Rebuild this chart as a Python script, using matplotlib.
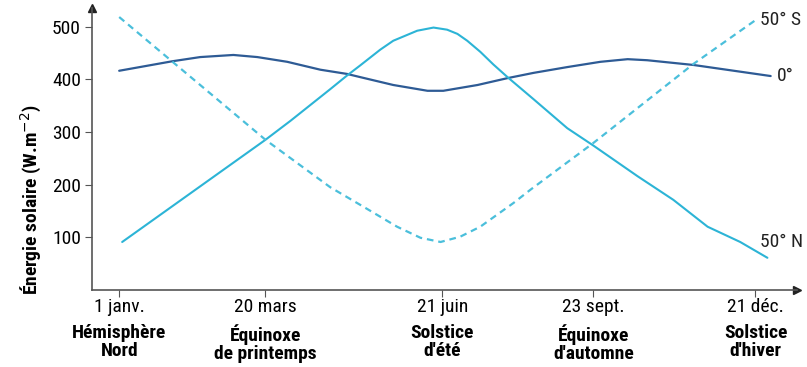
import matplotlib
matplotlib.use("Agg")
import matplotlib.pyplot as plt
import numpy as np

plt.rcParams['font.family'] = ['Liberation Sans Narrow', 'Roboto Condensed',
                               'DejaVu Sans Condensed', 'Roboto', 'DejaVu Sans']

# x in months from 1 janv. (as read from the schematic)
tick_pos = [0, 2.69, 5.94, 8.72, 11.70]
tick_dates = ["1 janv.", "20 mars", "21 juin", "23 sept.", "21 déc."]
tick_events = ["Hémisphère\nNord", "Équinoxe\nde printemps", "Solstice\nd'été",
               "Équinoxe\nd'automne", "Solstice\nd'hiver"]

# 0° (équateur)
x_eq = [0.00, 0.975, 1.49, 2.10, 2.54, 3.09, 3.70, 4.19, 4.43, 5.04, 5.67, 5.96,
        6.59, 7.14, 7.62, 8.24, 8.85, 9.35, 9.71, 10.56, 11.98]
y_eq = [416, 434, 442, 446, 442, 433, 418, 410, 404, 389, 378, 378,
        389, 402, 412, 423, 433, 438, 436, 427, 406]

# 50° N
x_n = [0.055, 2.69, 3.15, 3.88, 4.19, 4.43, 4.80, 5.04, 5.48, 5.78, 6.03, 6.22, 6.40,
       6.64, 6.88, 7.14, 7.62, 8.24, 8.72, 9.53, 10.19, 10.82, 11.42, 11.92]
y_n = [91, 285, 321, 381, 407, 426, 456, 473, 492, 498, 494, 486, 473,
       452, 428, 404, 362, 307, 274, 216, 171, 120, 91, 61]

# 50° S
x_s = [0.00, 2.69, 3.88, 4.49, 5.11, 5.54, 5.91, 6.27, 6.64, 7.25, 7.56, 8.72, 10.56, 11.70]
y_s = [518, 285, 195, 158, 120, 99, 91, 101, 120, 165, 190, 279, 429, 512]

yticks = [100, 200, 300, 400, 500]

fig = plt.figure(figsize=(8.07, 3.67), dpi=100)
ax = fig.add_axes([0.114, 0.21, 0.874, 0.768])

dark = "#2e5b95"
light = "#2cb4d6"
dash = "#4bbfdb"

ax.plot(x_eq, y_eq, color=dark, lw=1.6, solid_capstyle='round')
ax.plot(x_n, y_n, color=light, lw=1.5, solid_capstyle='round')
ax.plot(x_s, y_s, color=dash, lw=1.6, linestyle=(0, (3, 2.2)))

fs = 14
ax.text(11.79, 512, "50° S", fontsize=fs, va='center', ha='left', color="#222")
ax.text(12.10, 406, "0°", fontsize=fs, va='center', ha='left', color="#222")
ax.text(11.79, 91, "50° N", fontsize=fs, va='center', ha='left', color="#222")

ax.set_xlim(-0.5, 12.47)
ax.set_ylim(0, 535)

for s in ['top', 'right']:
    ax.spines[s].set_visible(False)
for s in ['left', 'bottom']:
    ax.spines[s].set_color("#555555")
    ax.spines[s].set_linewidth(1.2)

# arrow heads at axis ends
ax.plot(1, 0, ">", color="#222", ms=6, transform=ax.transAxes, clip_on=False)
ax.plot(0, 1, "^", color="#222", ms=6, transform=ax.transAxes, clip_on=False)

ax.set_yticks(yticks)
ax.set_yticklabels([str(v) for v in yticks], fontsize=fs)
ax.tick_params(axis='y', length=5, color="#555555", pad=3)

ax.set_xticks(tick_pos)
ax.set_xticklabels(tick_dates, fontsize=fs)
ax.tick_params(axis='x', length=5, color="#555555", pad=1)

for xp, ev in zip(tick_pos, tick_events):
    ax.text(xp, -0.12, ev, transform=ax.get_xaxis_transform(), ha='center', va='top',
            fontsize=fs, fontweight='bold', linespacing=1.05, clip_on=False)

ax.set_ylabel(r"Énergie solaire (W.m$^{-2}$)", fontsize=fs, fontweight='bold')
ax.yaxis.set_label_coords(-0.068, 0.32)

fig.savefig("out.png", dpi=100)
